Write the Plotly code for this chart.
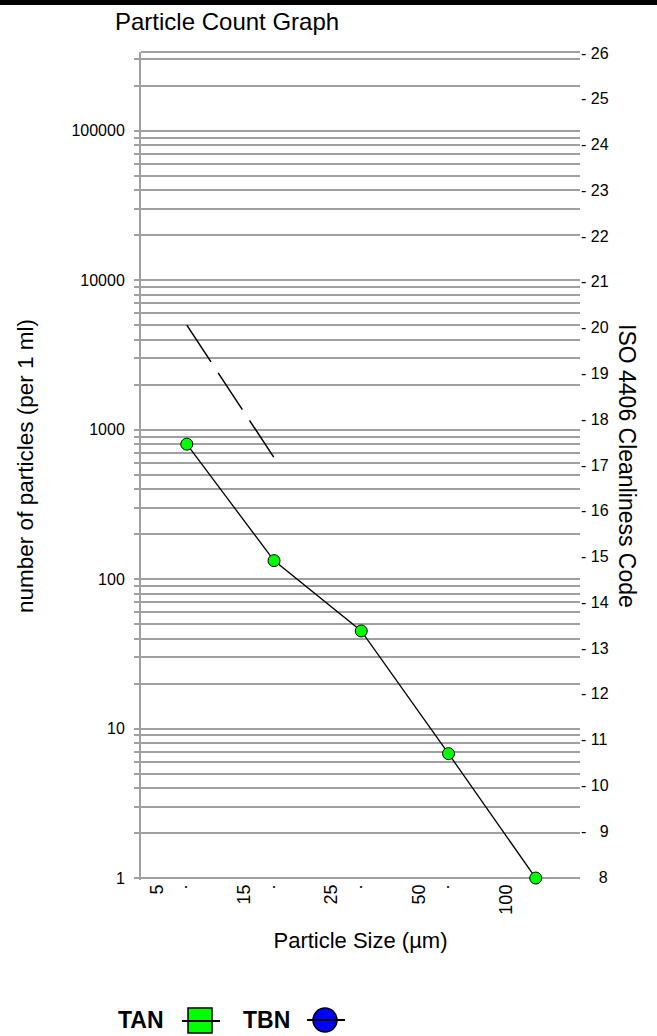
import plotly.graph_objects as go

# ---------------- data ----------------
slot_positions = [0, 1, 2, 3, 4, 5, 6, 7, 8, 9]
slot_labels = ["5", ".", "15", ".", "25", ".", "50", ".", "100", ""]

tan_slots = [1, 3, 5, 7, 9]
tan_counts = [800, 133, 45, 6.8, 1]

tbn_slots = [1, 3]
tbn_counts = [5000, 650]

decade_vals = [1, 10, 100, 1000, 10000, 100000]
decade_labels = ["1", "10", "100", "1000", "10000", "100000"]
extra_grid = [200000, 300000]

iso_codes = list(range(8, 27))

# ---------------- geometry ----------------
W, H = 657, 1036
L, R, T, B = 141, 77, 52, 156
PW = W - L - R
PH = H - T - B
num_label_shift = 0.32   # numeric labels sit a little right of their slot
dot_label_shift = -0.12  # "." glyph ink sits right of its box centre


def px2x(p):
    return (p - L) / PW


def py2y(p):
    return (H - B - p) / PH


FONT = "Liberation Sans, Arial, sans-serif"
GRID = "#a0a0a0"

grid_vals = []
grid_text = []
for d, lab in zip(decade_vals, decade_labels):
    for m in range(1, 10):
        grid_vals.append(d * m)
        grid_text.append(lab if m == 1 else "")
for v in extra_grid:
    grid_vals.append(v)
    grid_text.append("")

x_tickvals = []
x_ticktext = []
for pos, lab in zip(slot_positions, slot_labels):
    if lab == "":
        continue
    x_tickvals.append(pos + (dot_label_shift if lab == "." else num_label_shift))
    x_ticktext.append(lab)

iso_text = []
for c in iso_codes:
    if c == 8:
        iso_text.append("\u2007\u2007" + str(c))
    elif c < 10:
        iso_text.append("- \u2007" + str(c))
    else:
        iso_text.append("- " + str(c))

fig = go.Figure()

fig.add_trace(go.Scatter(
    x=tbn_slots, y=tbn_counts, mode="lines", name="TBN",
    line=dict(color="black", width=1.5, dash="44px,13px"),
    showlegend=False, hoverinfo="skip",
))

fig.add_trace(go.Scatter(
    x=tan_slots, y=tan_counts, mode="lines+markers", name="TAN",
    line=dict(color="black", width=1.3),
    marker=dict(symbol="circle", size=12, color="#00ff00",
                line=dict(color="black", width=1)),
    cliponaxis=False, showlegend=False,
))

# invisible trace to activate the right-hand ISO axis
fig.add_trace(go.Scatter(
    x=[slot_positions[0]] * len(iso_codes), y=iso_codes, yaxis="y2",
    mode="markers", marker=dict(opacity=0), showlegend=False, hoverinfo="skip",
))

fig.update_layout(
    width=W, height=H,
    margin=dict(l=L, r=R, t=T, b=B, autoexpand=False),
    paper_bgcolor="white", plot_bgcolor="white",
    font=dict(family=FONT, color="black"),
    title=dict(text="Particle Count Graph", x=115 / W, xanchor="left",
               xref="container", y=1 - 22 / H, yanchor="middle",
               yref="container", font=dict(size=24, family=FONT)),
    xaxis=dict(
        range=[-0.05, 10.015], tickvals=x_tickvals, ticktext=x_ticktext,
        tickangle=-90, showgrid=False, zeroline=False, showline=False,
        ticks="", tickfont=dict(size=18, family=FONT),
        title=dict(text="Particle Size (µm)", font=dict(size=22, family=FONT),
                   standoff=18),
        automargin=False, fixedrange=True,
    ),
    yaxis=dict(
        type="log", range=[-0.013, 5.527],
        tickvals=grid_vals, ticktext=grid_text,
        showgrid=True, gridcolor=GRID, gridwidth=2,
        showline=True, linecolor=GRID, linewidth=2,
        ticks="outside", ticklen=5, tickcolor=GRID, tickwidth=2,
        ticklabelstandoff=6,
        zeroline=False, tickfont=dict(size=16, family=FONT),
        title=dict(text="number of particles (per 1 ml)",
                   font=dict(size=22.5, family=FONT), standoff=32),
        automargin=False, fixedrange=True,
    ),
    yaxis2=dict(
        overlaying="y", side="right", range=[7.935, 26.02],
        tickvals=iso_codes, ticktext=iso_text, showgrid=False,
        zeroline=False, showline=False, ticks="",
        tickfont=dict(size=16, family=FONT), automargin=False,
        fixedrange=True,
    ),
    showlegend=False,
)

shapes = []
# black band at very top
shapes.append(dict(type="rect", xref="paper", yref="paper",
                   x0=px2x(0), x1=px2x(W), y0=py2y(5), y1=py2y(0),
                   fillcolor="black", line=dict(width=0), layer="above"))
# top frame line
shapes.append(dict(type="line", xref="paper", yref="paper",
                   x0=0, x1=1, y0=1, y1=1, line=dict(color=GRID, width=2)))
# legend glyphs
shapes.append(dict(type="rect", xref="paper", yref="paper",
                   x0=px2x(188), x1=px2x(212), y0=py2y(1033), y1=py2y(1008),
                   fillcolor="#00ff00", line=dict(color="black", width=1.5)))
shapes.append(dict(type="line", xref="paper", yref="paper",
                   x0=px2x(182), x1=px2x(220), y0=py2y(1021), y1=py2y(1021),
                   line=dict(color="black", width=2)))
shapes.append(dict(type="circle", xref="paper", yref="paper",
                   x0=px2x(313), x1=px2x(337), y0=py2y(1032), y1=py2y(1008),
                   fillcolor="#0000ff", line=dict(color="black", width=1.5)))
shapes.append(dict(type="line", xref="paper", yref="paper",
                   x0=px2x(307), x1=px2x(345), y0=py2y(1020), y1=py2y(1020),
                   line=dict(color="black", width=2)))
fig.update_layout(shapes=shapes)

fig.add_annotation(text="ISO 4406 Cleanliness Code", textangle=90,
                   xref="paper", yref="paper", x=px2x(627), y=py2y(466),
                   xanchor="center", yanchor="middle", showarrow=False,
                   font=dict(size=23, family=FONT))
fig.add_annotation(text="<b>TAN</b>", xref="paper", yref="paper",
                   x=px2x(141), y=py2y(1020), xanchor="center",
                   yanchor="middle", showarrow=False,
                   font=dict(size=23, family=FONT))
fig.add_annotation(text="<b>TBN</b>", xref="paper", yref="paper",
                   x=px2x(266), y=py2y(1020), xanchor="center",
                   yanchor="middle", showarrow=False,
                   font=dict(size=23, family=FONT))

fig.write_html(
    "out.html",
    config={"displayModeBar": False},
    post_script="document.body.style.margin='0px';"
                "document.body.style.padding='0px';"
                "document.body.style.overflow='hidden';",
)
